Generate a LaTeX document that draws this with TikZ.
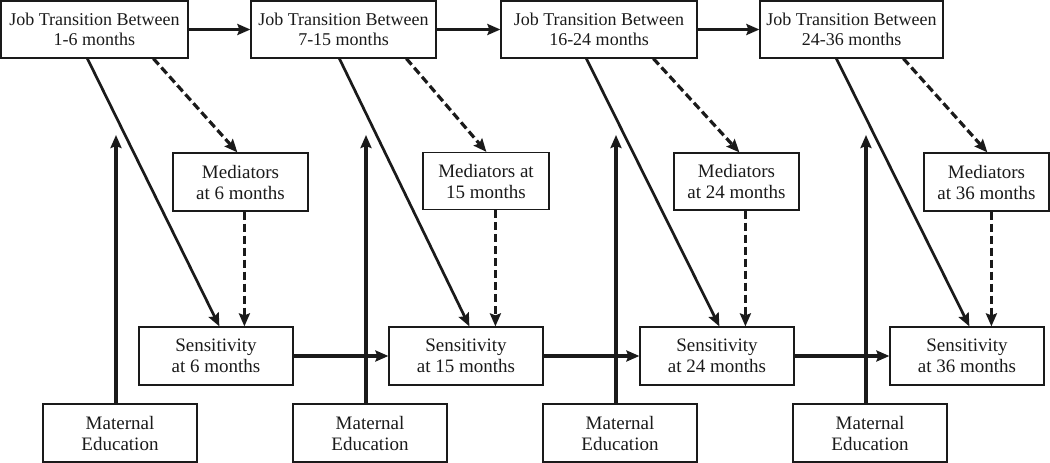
\documentclass[tikz,border=0pt]{standalone}
\usepackage{fontspec}
\setmainfont{Liberation Serif}
\usetikzlibrary{arrows.meta,calc}
\definecolor{ink}{HTML}{1A1A1A}
\tikzset{
  box/.style={draw=ink, line width=1.2pt, inner sep=0pt, align=center, text=ink,
    font=\fontsize{19}{21}\selectfont},
  jbox/.style={box, font=\fontsize{18}{20}\selectfont},
  arr/.style={draw=ink, line width=3.2pt, -{Stealth[length=13pt,width=11pt,inset=2pt]}},
  diag/.style={draw=ink, line width=2.7pt, -{Stealth[length=13pt,width=11pt,inset=2pt]}},
  darr/.style={draw=ink, line width=3.2pt, dash pattern=on 8pt off 4pt, -{Stealth[length=13pt,width=11pt,inset=2pt]}},
}
\begin{document}
\begin{tikzpicture}[x=1pt,y=1pt]
\useasboundingbox (0,0) rectangle (1050,-463);
% Job transition boxes
\node[jbox, minimum width=187pt, minimum height=57pt] (j1) at (94.5,-29.5) {Job Transition Between\\1-6 months};
\node[jbox, minimum width=185pt, minimum height=57pt] (j2) at (343.5,-29.5) {Job Transition Between\\7-15 months};
\node[jbox, minimum width=196pt, minimum height=57pt] (j3) at (599,-29.5) {Job Transition Between\\16-24 months};
\node[jbox, minimum width=183pt, minimum height=57pt] (j4) at (851.5,-29.5) {Job Transition Between\\24-36 months};
% Mediators
\node[box, minimum width=135pt, minimum height=58pt] (m1) at (240.5,-182) {Mediators\\at 6 months};
\node[box, minimum width=126pt, minimum height=57pt] (m2) at (486,-181) {Mediators at\\15 months};
\node[box, minimum width=125pt, minimum height=57pt] (m3) at (736.5,-181.5) {Mediators\\at 24 months};
\node[box, minimum width=125pt, minimum height=58pt] (m4) at (986.5,-182) {Mediators\\at 36 months};
% Sensitivity
\node[box, minimum width=154pt, minimum height=58pt] (s1) at (216,-356) {Sensitivity\\at 6 months};
\node[box, minimum width=154pt, minimum height=58pt] (s2) at (466,-356) {Sensitivity\\at 15 months};
\node[box, minimum width=154pt, minimum height=58pt] (s3) at (717,-356) {Sensitivity\\at 24 months};
\node[box, minimum width=154pt, minimum height=58pt] (s4) at (967,-356) {Sensitivity\\at 36 months};
% Maternal education
\node[box, minimum width=154pt, minimum height=58pt] (e1) at (120,-433) {Maternal\\Education};
\node[box, minimum width=154pt, minimum height=58pt] (e2) at (370,-433) {Maternal\\Education};
\node[box, minimum width=154pt, minimum height=58pt] (e3) at (620,-433) {Maternal\\Education};
\node[box, minimum width=154pt, minimum height=58pt] (e4) at (870,-433) {Maternal\\Education};
% free ends of the education arrows
\coordinate (t1) at (116,-135);
\coordinate (t2) at (366,-135);
\coordinate (t3) at (616,-135);
\coordinate (t4) at (866,-135);
% horizontal job arrows
\draw[arr] (j1.east) -- (j2.west);
\draw[arr] (j2.east) -- (j3.west);
\draw[arr] (j3.east) -- (j4.west);
% horizontal sensitivity arrows
\draw[arr] (s1.east) -- (s2.west);
\draw[arr] (s2.east) -- (s3.west);
\draw[arr] (s3.east) -- (s4.west);
% education arrows
\draw[arr] (e1.north -| t1) -- (t1);
\draw[arr] (e2.north -| t2) -- (t2);
\draw[arr] (e3.north -| t3) -- (t3);
\draw[arr] (e4.north -| t4) -- (t4);
% direct job -> sensitivity arrows
\draw[diag] ([xshift=87pt]j1.south west) -- ([xshift=81pt]s1.north west);
\draw[diag] ([xshift=89pt]j2.south west) -- ([xshift=81pt]s2.north west);
\draw[diag] ([xshift=86pt]j3.south west) -- ([xshift=80pt]s3.north west);
\draw[diag] ([xshift=77pt]j4.south west) -- ([xshift=80pt]s4.north west);
% dashed job -> mediator arrows
\draw[darr] ([xshift=153pt]j1.south west) -- ([xshift=65pt]m1.north west);
\draw[darr] ([xshift=156pt]j2.south west) -- ([xshift=64pt]m2.north west);
\draw[darr] ([xshift=153pt]j3.south west) -- ([xshift=66pt]m3.north west);
\draw[darr] ([xshift=144pt]j4.south west) -- ([xshift=64pt]m4.north west);
% dashed mediator -> sensitivity arrows
\draw[darr] ([xshift=72pt]m1.south west) -- ([xshift=72pt]m1.south west |- s1.north);
\draw[darr] ([xshift=73pt]m2.south west) -- ([xshift=73pt]m2.south west |- s2.north);
\draw[darr] ([xshift=72pt]m3.south west) -- ([xshift=72pt]m3.south west |- s3.north);
\draw[darr] ([xshift=68pt]m4.south west) -- ([xshift=68pt]m4.south west |- s4.north);
\end{tikzpicture}
\end{document}
